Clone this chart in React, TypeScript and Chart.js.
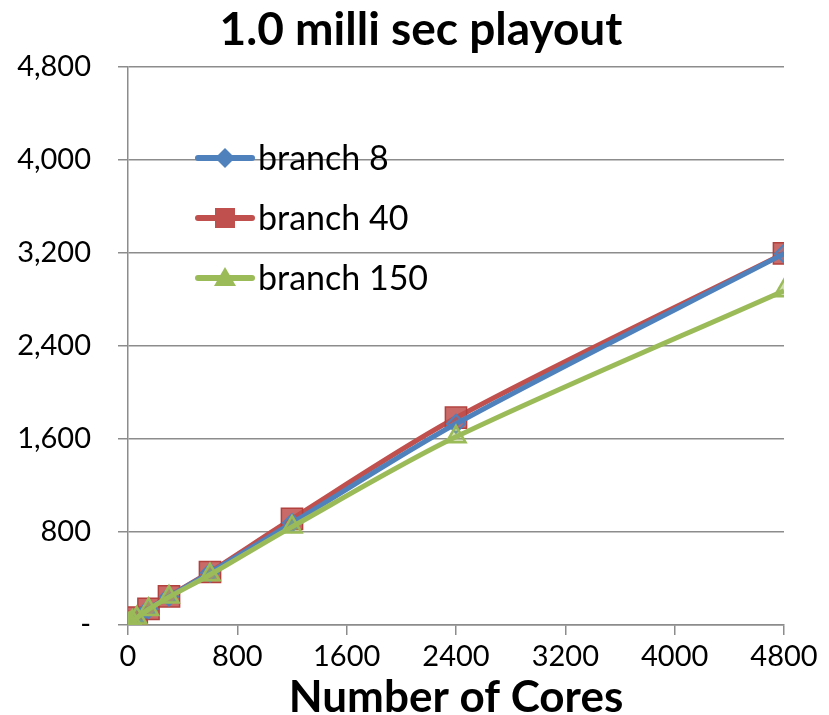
import React, { useEffect, useRef } from "react";
import { Chart, registerables } from "chart.js";

Chart.register(...registerables);

const FONT = 'Lato, "Open Sans", sans-serif';

// Number of cores on the x axis
const cores = [1, 8, 16, 32, 64, 150, 300, 600, 1200, 2400, 4800];

// Speed-up for each branching factor
const branch8 = [1, 8, 16, 31, 62, 136, 244, 450, 878, 1731, 3194];
const branch40 = [1, 8, 16, 32, 63, 138, 247, 456, 913, 1783, 3196];
const branch150 = [1, 8, 16, 31, 61, 134, 240, 432, 844, 1619, 2876];

const chartTitle = "1.0 milli sec playout";
const seriesNames = ["branch 8", "branch 40", "branch 150"];
const yTicks = [0, 800, 1600, 2400, 3200, 4000, 4800];
const xTicks = [0, 800, 1600, 2400, 3200, 4000, 4800];

const BLUE = "#4F81BD";
const RED = "#C0504D";
const GREEN = "#9BBB59";
const AXIS = "#8C8C8C";

// Chart heading, centred a little right of the canvas middle
const heading = {
  id: "heading",
  afterDraw(chart: any) {
    const { ctx } = chart;
    ctx.save();
    ctx.fillStyle = "#000";
    ctx.font = `bold 46px ${FONT}`;
    ctx.textAlign = "center";
    ctx.textBaseline = "middle";
    ctx.fillText(chartTitle, 421, 30);
    ctx.restore();
  },
};

// Legend drawn inside the plot area, top-left
const insideLegend = {
  id: "insideLegend",
  afterDatasetsDraw(chart: any) {
    const { ctx, chartArea } = chart;
    const x0 = chartArea.left + 70;
    const y0 = chartArea.top + 91;
    const gap = 60;
    ctx.save();
    [0, 1, 2].forEach((di, i) => {
      const ds = chart.data.datasets[di];
      const y = y0 + i * gap;
      ctx.strokeStyle = ds.borderColor;
      ctx.lineWidth = 6;
      ctx.lineCap = "round";
      ctx.beginPath();
      ctx.moveTo(x0, y);
      ctx.lineTo(x0 + 54, y);
      ctx.stroke();
      ctx.fillStyle = ds.borderColor;
      const cx = x0 + 27;
      ctx.beginPath();
      if (ds.pointStyle === "rectRot") {
        ctx.moveTo(cx, y - 10);
        ctx.lineTo(cx + 10, y);
        ctx.lineTo(cx, y + 10);
        ctx.lineTo(cx - 10, y);
        ctx.closePath();
      } else if (ds.pointStyle === "rect") {
        ctx.rect(cx - 10, y - 10, 20, 20);
      } else {
        ctx.moveTo(cx, y - 11);
        ctx.lineTo(cx + 11, y + 8);
        ctx.lineTo(cx - 11, y + 8);
        ctx.closePath();
      }
      ctx.fill();
      ctx.fillStyle = "#000";
      ctx.font = `34px ${FONT}`;
      ctx.textAlign = "left";
      ctx.textBaseline = "middle";
      ctx.fillText(seriesNames[di], x0 + 60, y + 1);
    });
    ctx.restore();
  },
};

export default function App() {
  const ref = useRef<HTMLCanvasElement>(null);

  useEffect(() => {
    if (!ref.current) return;
    const mk = (vals: number[]) => vals.map((v, i) => ({ x: cores[i], y: v }));
    const chart = new Chart(ref.current, {
      type: "line",
      data: {
        datasets: [
          {
            label: seriesNames[0],
            data: mk(branch8),
            borderColor: BLUE,
            backgroundColor: "rgba(79,129,189,0.25)",
            pointBorderColor: BLUE,
            pointStyle: "rectRot",
            pointRadius: 9,
            pointBorderWidth: 2,
            borderWidth: 5,
            tension: 0.3,
            order: 1,
          },
          {
            label: seriesNames[1],
            data: mk(branch40),
            borderColor: RED,
            backgroundColor: "rgba(192,80,77,0.85)",
            pointBorderColor: "#B2413E",
            pointStyle: "rect",
            pointRadius: 15,
            pointBorderWidth: 1.5,
            borderWidth: 5,
            tension: 0.3,
            order: 2,
          },
          {
            label: seriesNames[2],
            data: mk(branch150),
            borderColor: GREEN,
            backgroundColor: "rgba(155,187,89,0.45)",
            pointBorderColor: GREEN,
            pointStyle: "triangle",
            pointRadius: 11,
            pointBorderWidth: 2.5,
            borderWidth: 5,
            tension: 0.3,
            order: 0,
          },
        ],
      },
      options: {
        animation: false,
        responsive: false,
        layout: { padding: { left: 0, right: 45, top: 67, bottom: 0 } },
        plugins: {
          legend: { display: false },
          tooltip: { enabled: false },
          title: { display: false },
        },
        scales: {
          x: {
            type: "linear",
            min: 0,
            max: 4800,
            afterBuildTicks: (s: any) => {
              s.ticks = xTicks.map((v) => ({ value: v }));
            },
            afterFit: (s: any) => {
              s.height = 90;
            },
            grid: {
              drawOnChartArea: false,
              drawTicks: true,
              tickLength: 10,
              color: AXIS,
              lineWidth: 1.5,
            },
            border: { color: AXIS, width: 1.5 },
            ticks: {
              color: "#000",
              font: { family: FONT, size: 29 },
              padding: 4,
              maxRotation: 0,
              callback: (v: any) => String(v),
            },
            title: {
              display: true,
              text: "Number of Cores",
              color: "#000",
              font: { family: FONT, size: 44, weight: "bold", lineHeight: 0.8 },
              padding: { top: 0, bottom: 0 },
            },
          },
          y: {
            type: "linear",
            min: 0,
            max: 4800,
            afterBuildTicks: (s: any) => {
              s.ticks = yTicks.map((v) => ({ value: v }));
            },
            afterFit: (s: any) => {
              s.width = 128;
            },
            grid: {
              drawOnChartArea: true,
              drawTicks: true,
              tickLength: 10,
              color: AXIS,
              lineWidth: 1.5,
            },
            border: { color: AXIS, width: 1.5 },
            ticks: {
              color: "#000",
              font: { family: FONT, size: 29 },
              padding: 27,
              callback: (v: any) => (v === 0 ? "-" : Number(v).toLocaleString("en-US")),
            },
          },
        },
      },
      plugins: [insideLegend, heading],
    });
    return () => chart.destroy();
  }, []);

  return (
    <div style={{ position: "fixed", left: 0, top: 0, width: 829, height: 715, background: "#fff" }}>
      <canvas ref={ref} width={829} height={715} />
    </div>
  );
}
